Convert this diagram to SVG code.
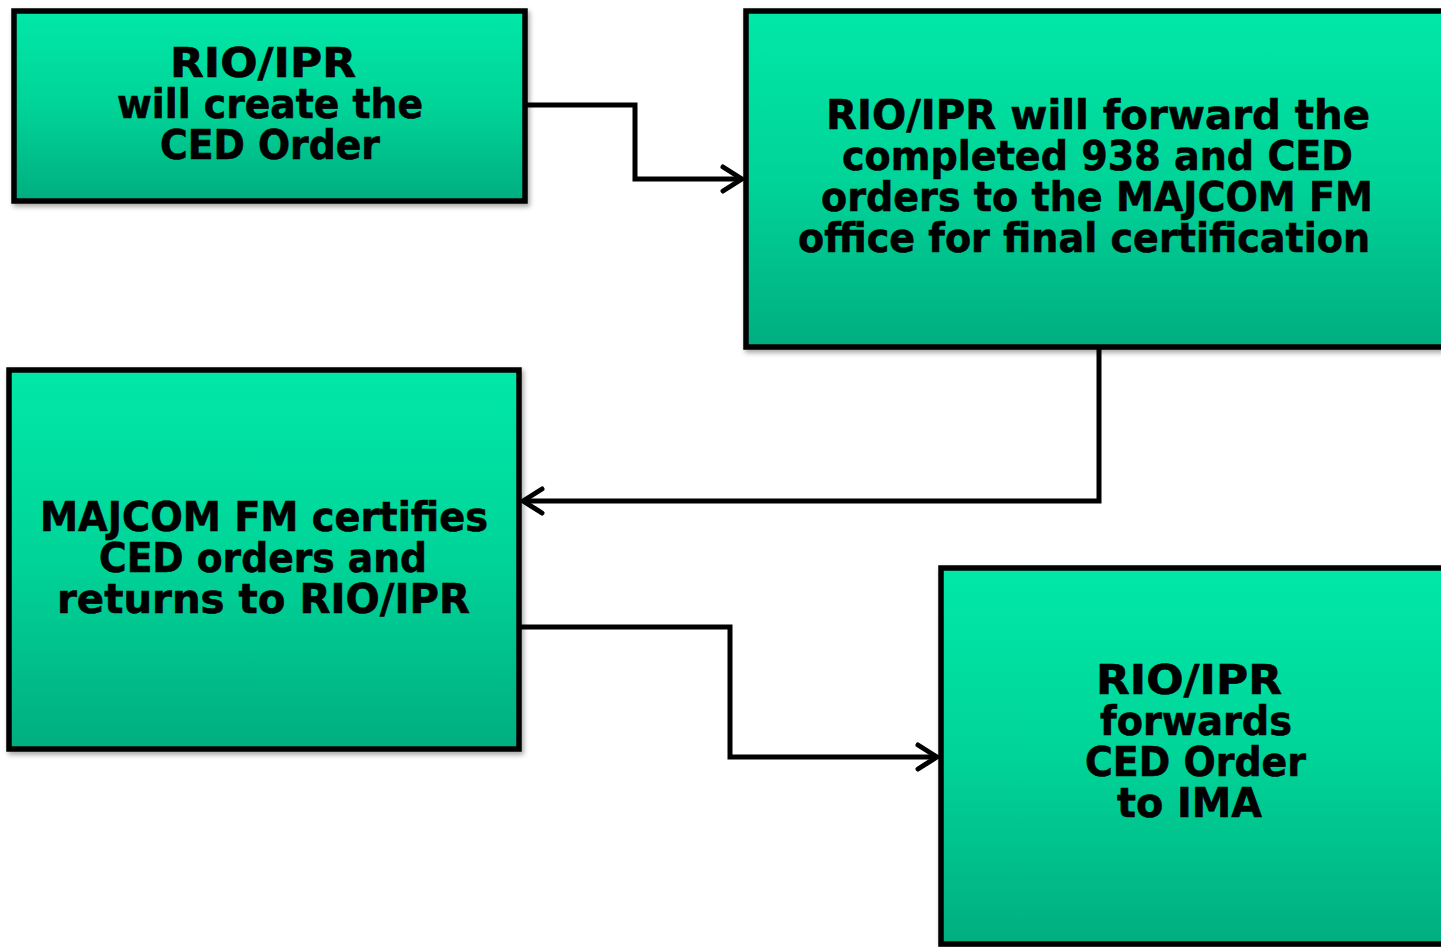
<svg xmlns="http://www.w3.org/2000/svg" width="1441" height="947" viewBox="0 0 1441 947">
<defs>
<linearGradient id="g" x1="0" y1="0" x2="0" y2="1">
<stop offset="0" stop-color="#00E8A8"/>
<stop offset="0.5" stop-color="#00D498"/>
<stop offset="1" stop-color="#00AE80"/>
</linearGradient>
<filter id="sh" x="-5%" y="-5%" width="115%" height="115%">
<feDropShadow dx="2" dy="3" stdDeviation="2.5" flood-color="#000" flood-opacity="0.35"/>
</filter>
<marker id="ar" markerUnits="userSpaceOnUse" markerWidth="30" markerHeight="30" refX="22" refY="15" orient="auto" viewBox="0 0 30 30">
<polyline points="3,3 22,15 3,27" fill="none" stroke="#000" stroke-width="5" stroke-linecap="round" stroke-linejoin="round"/>
</marker>
</defs>
<style>
.box{fill:url(#g);stroke:#000;stroke-width:5.5;filter:url(#sh)}
.t{font-family:"DejaVu Sans",Verdana,sans-serif;font-weight:bold;font-size:40px;fill:#000;stroke:#000;stroke-width:0.6}
.c{fill:none;stroke:#000;stroke-width:5;stroke-linejoin:miter;marker-end:url(#ar)}
</style>
<rect width="1441" height="947" fill="#fff"/>
<g id="connectors">
<polyline class="c" points="526,105 635,105 635,179 742,179"/>
<polyline class="c" points="1099,348 1099,501 523,501"/>
<polyline class="c" points="520,627 730,627 730,757 937,757"/>
</g>
<g id="n1">
<rect class="box" x="14" y="11" width="511" height="190"/>
<text class="t" x="170" y="77" textLength="186" lengthAdjust="spacingAndGlyphs">RIO/IPR</text>
<text class="t" x="117" y="118" textLength="306" lengthAdjust="spacingAndGlyphs">will create the</text>
<text class="t" x="160" y="159" textLength="220" lengthAdjust="spacingAndGlyphs">CED Order</text>
</g>
<g id="n2">
<rect class="box" x="746" y="11" width="705" height="336"/>
<text class="t" x="826" y="129" textLength="544" lengthAdjust="spacingAndGlyphs">RIO/IPR will forward the</text>
<text class="t" x="842" y="170" textLength="511" lengthAdjust="spacingAndGlyphs">completed 938 and CED</text>
<text class="t" x="821" y="211" textLength="552" lengthAdjust="spacingAndGlyphs">orders to the MAJCOM FM</text>
<text class="t" x="798" y="252" textLength="572" lengthAdjust="spacingAndGlyphs">office for final certification</text>
</g>
<g id="n3">
<rect class="box" x="9" y="370" width="510" height="379"/>
<text class="t" x="40" y="531" textLength="448" lengthAdjust="spacingAndGlyphs">MAJCOM FM certifies</text>
<text class="t" x="99" y="572" textLength="328" lengthAdjust="spacingAndGlyphs">CED orders and</text>
<text class="t" x="57" y="613" textLength="413" lengthAdjust="spacingAndGlyphs">returns to RIO/IPR</text>
</g>
<g id="n4">
<rect class="box" x="941" y="568" width="510" height="376"/>
<text class="t" x="1096" y="694" textLength="186" lengthAdjust="spacingAndGlyphs">RIO/IPR</text>
<text class="t" x="1100" y="735" textLength="192" lengthAdjust="spacingAndGlyphs">forwards</text>
<text class="t" x="1085" y="776" textLength="221" lengthAdjust="spacingAndGlyphs">CED Order</text>
<text class="t" x="1117" y="817" textLength="145" lengthAdjust="spacingAndGlyphs">to IMA</text>
</g>
</svg>
